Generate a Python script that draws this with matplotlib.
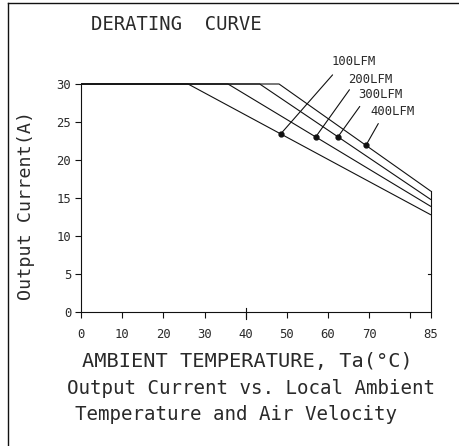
import matplotlib
matplotlib.use("Agg")
import matplotlib.pyplot as plt
from matplotlib.lines import Line2D
import numpy as np

# ---- data ----
series_labels = ["100LFM", "200LFM", "300LFM", "400LFM"]
break_temp = [26.0, 35.7, 43.4, 48.1]      # deg C where derating starts
full_current = [30, 30, 30, 30]            # A
end_temp = [85, 85, 85, 85]
end_current = [12.8, 13.9, 14.8, 15.9]     # A at 85 C
marker_temp = [48.5, 57.0, 62.4, 69.2]
x_ticks = [0, 10, 20, 30, 40, 50, 60, 70, 80, 85]
x_ticklabels = ["0", "10", "20", "30", "40", "50", "60", "70", "", "85"]
y_ticks = [0, 5, 10, 15, 20, 25, 30]

W, H = 460, 446
fig = plt.figure(figsize=(W / 100, H / 100), dpi=100)
plt.rcParams['font.family'] = ['DejaVu Sans Mono', 'DejaVu Sans']

def fx(px):
    return px / W

def fy(py):
    return 1 - py / H

x0p, x1p = 81, 431
y0p, y30p = 312.3, 84.0
ax = fig.add_axes([fx(x0p), fy(y0p), (x1p - x0p) / W, (y0p - y30p) / H])
ax.set_xlim(0, 85)
ax.set_ylim(0, 30)

lc = "#111111"
tc = "#2a2a2a"
for i in range(len(series_labels)):
    xs = [0, break_temp[i], end_temp[i]]
    ys = [full_current[i], full_current[i], end_current[i]]
    ax.plot(xs, ys, color=lc, lw=0.8, clip_on=False, solid_capstyle='butt')
    my = np.interp(marker_temp[i], xs, ys)
    ax.plot([marker_temp[i]], [my], 'o', color=lc, ms=3.5, clip_on=False)

# label positions (layout)
text_pos = [(60.9, 33.0), (64.8, 30.6), (67.3, 28.6), (70.2, 26.4)]
lead_end = [(61.1, 31.2), (65.2, 29.25), (67.7, 27.05), (72.2, 24.8)]
for i, lab in enumerate(series_labels):
    xs = [0, break_temp[i], end_temp[i]]
    ys = [full_current[i], full_current[i], end_current[i]]
    my = np.interp(marker_temp[i], xs, ys)
    ax.annotate("", xy=(marker_temp[i], my), xytext=lead_end[i],
                arrowprops=dict(arrowstyle='-', lw=0.8, color=lc,
                                shrinkA=0, shrinkB=0), annotation_clip=False)
    ax.text(text_pos[i][0], text_pos[i][1], lab, fontsize=8.8, ha='left',
            va='center', color=tc, clip_on=False)

# spines
ax.spines['top'].set_visible(False)
ax.spines['right'].set_bounds(0, max(end_current))
for s in ['left', 'bottom', 'right']:
    ax.spines[s].set_linewidth(0.8)
    ax.spines[s].set_color(lc)

ax.set_xticks(x_ticks)
ax.set_xticklabels(x_ticklabels)
ax.set_yticks(y_ticks)
ax.tick_params(axis='both', direction='out', length=4, width=0.8,
               labelsize=8.8, colors=lc, labelcolor=tc)
ax.tick_params(axis='x', pad=7)
ax.tick_params(axis='y', pad=3)
# longer tick at 40
ax.plot([40 / 85, 40 / 85], [-0.03, 0.02], transform=ax.transAxes, color=lc,
        lw=0.8, clip_on=False)
# right small tick at 5
ax.plot([1 - 0.008, 1], [5 / 30, 5 / 30], transform=ax.transAxes, color=lc,
        lw=0.8, clip_on=False)

# texts
fig.text(fx(91), fy(25), "DERATING  CURVE", fontsize=13.6, ha='left',
         va='center', color=tc)
fig.text(fx(26), fy(205), "Output Current(A)", fontsize=13.2, rotation=90,
         ha='center', va='center', color=tc)
fig.text(fx(82), fy(362), "AMBIENT TEMPERATURE, Ta(\u00b0C)", fontsize=14.6,
         ha='left', va='center', color=tc)
fig.text(fx(67), fy(389), "Output Current vs. Local Ambient", fontsize=13.8,
         ha='left', va='center', color=tc)
fig.text(fx(75), fy(414), "Temperature and Air Velocity", fontsize=13.8,
         ha='left', va='center', color=tc)

# frame lines
fig.add_artist(Line2D([fx(8), fx(8)], [fy(3), 0], color=lc, lw=1.0))
fig.add_artist(Line2D([fx(8), 1], [fy(3), fy(3)], color=lc, lw=1.0))

fig.savefig("out.png", dpi=100)
